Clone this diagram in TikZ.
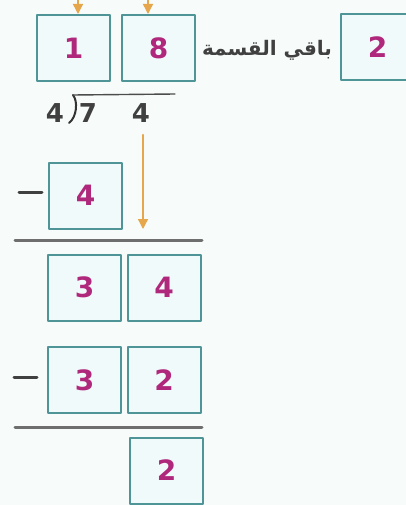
\documentclass[tikz,border=0pt]{standalone}
\usepackage{fontspec}
\usetikzlibrary{arrows.meta}
\setmainfont{DejaVu Sans}
\newfontfamily\arabicfont[Script=Arabic]{DejaVu Sans}
\TeXXeTstate=1
\definecolor{boxLine}{HTML}{4F9598}
\definecolor{boxFill}{HTML}{F0FAFA}
\definecolor{digitCol}{HTML}{B0287C}
\definecolor{arrowCol}{HTML}{E6A64C}
\definecolor{ruleCol}{HTML}{6E6E6E}
\definecolor{paperCol}{HTML}{F7FBF9}

\begin{document}
\begin{tikzpicture}[x=1pt, y=-1pt, line cap=round, line join=round]

% ---------------- styles ----------------
\tikzset{
  divBox/.style   ={draw=boxLine, line width=2pt, fill=boxFill, minimum width=73pt,
                    minimum height=66pt, inner sep=0pt, text=digitCol,
                    font=\fontsize{28}{28}\selectfont\bfseries},
  divText/.style  ={inner sep=0pt, font=\fontsize{26}{26}\selectfont\bfseries, text=black!75},
  divArrow/.style ={draw=arrowCol, line width=1.4pt, -{Triangle[length=10pt, width=10pt]}},
  divRule/.style  ={draw=ruleCol, line width=3pt},
  divMinus/.style ={draw=black!75, line width=3pt}
}

% ---------------- page ----------------
\fill[paperCol] (0,0) rectangle (406,505);
\useasboundingbox (0,0) rectangle (406,505);

% ---------------- quotient and remainder ----------------
\node[divBox] (q1) at (73.5,48) {1};
\node[divBox] (q2) at (158.5,48) {8};
\node[divBox] (rem) at (377.5,47) {2};
\node[inner sep=0pt, text=black!75, font=\fontsize{20}{20}\selectfont\bfseries] (remText) at (267,50)
  {\arabicfont\beginR باقي القسمة\endR};

% arrows coming down into the quotient
\coordinate (topA) at (78,-8);
\coordinate (topB) at (148,-8);
\draw[divArrow] (topA) -- (topA |- q1.north);
\draw[divArrow] (topB) -- (topB |- q2.north);

% ---------------- divisor and dividend ----------------
\node[divText] (divisor) at (55,113) {4};
\node[divText] (dvdA) at (88,113) {7};
\node[divText] (dvdB) at (141,113) {4};
\coordinate (brkLow) at (69,123);
\coordinate (brkTop) at (73,95);
\coordinate (barEnd) at (175,94);
\draw[black!80, line width=2pt] (brkLow) .. controls (77,117) and (78,101) .. (brkTop);
\draw[black!70, line width=1.4pt] (brkTop) -- (barEnd);

% ---------------- first step ----------------
\node[divBox] (sub1) at (85.5,195.5) {4};
\draw[divMinus] (19,192) -- (42,192);

% bring down the 4
\coordinate (downEnd) at (143,229);
\draw[divArrow] (dvdB.south -| downEnd) ++(0,12) -- (downEnd);

\coordinate (ruleAL) at (15,240);
\coordinate (ruleAR) at (202,240);
\draw[divRule] (ruleAL) -- (ruleAR);

\node[divBox] (rest1) at (84.5,287.5) {3};
\node[divBox] (rest2) at (164,287.5) {4};

% ---------------- second step ----------------
\node[divBox] (sub2) at (84.5,380) {3};
\node[divBox] (sub3) at (164,380) {2};
\draw[divMinus] (14,377) -- (37,377);

\coordinate (ruleBL) at (15,427);
\coordinate (ruleBR) at (202,427);
\draw[divRule] (ruleBL) -- (ruleBR);

\node[divBox] (last) at (166.5,470.5) {2};

\end{tikzpicture}
\end{document}
